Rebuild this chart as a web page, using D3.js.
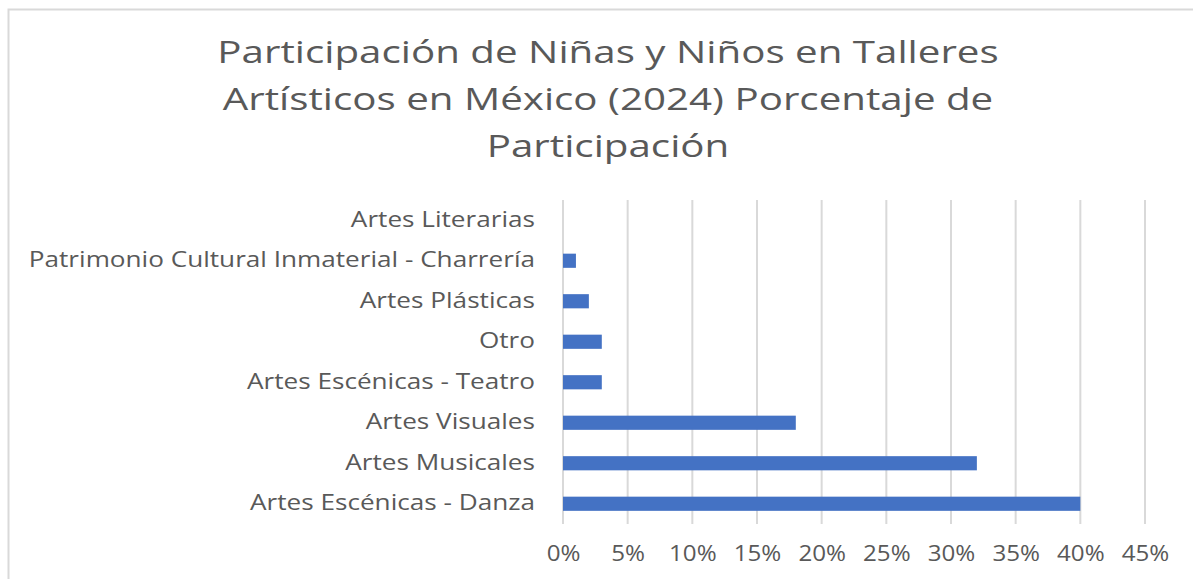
<!DOCTYPE html>
<html>
<head>
<meta charset="utf-8">
<script src="https://cdn.jsdelivr.net/npm/d3@7"></script>
<style>
  body { margin: 0; background: #fff; }
  svg { display: block; }
  text { font-family: "Open Sans", "Noto Sans", sans-serif; fill: #595959; }
</style>
</head>
<body>
<svg id="chart" width="1193" height="579"></svg>
<script>
// categories, top to bottom
const categories = [
  "Artes Literarias",
  "Patrimonio Cultural Inmaterial - Charrería",
  "Artes Plásticas",
  "Otro",
  "Artes Escénicas - Teatro",
  "Artes Visuales",
  "Artes Musicales",
  "Artes Escénicas - Danza"
];
// percentage of participation
const values = [0, 1, 2, 3, 3, 18, 32, 40];
const tickValues = [0, 5, 10, 15, 20, 25, 30, 35, 40, 45];
const titleLines = [
  "Participación de Niñas y Niños en Talleres",
  "Artísticos en México (2024) Porcentaje de",
  "Participación"
];

// the source picture is stretched sideways, so the text is too
const titleStretch = 1.3, labelStretch = 1.245, tickStretch = 1.15;

const svg = d3.select("#chart");

// chart frame (cut by the window on right and bottom)
svg.append("rect")
   .attr("x", 8.5).attr("y", 9.5)
   .attr("width", 1300).attr("height", 700)
   .attr("fill", "#fff")
   .attr("stroke", "#d9d9d9")
   .attr("stroke-width", 2);

// title
svg.append("g")
   .selectAll("text")
   .data(titleLines)
   .enter().append("text")
     .attr("transform", (d, i) => `translate(608,${63 + i * 47}) scale(${titleStretch},1)`)
     .attr("text-anchor", "middle")
     .style("font-size", "31px")
     .text(d => d);

const margin = { top: 200, left: 563 },
      width = 1145 - 563,
      height = 324;

const g = svg.append("g")
   .attr("transform", `translate(${margin.left},${margin.top})`);

const x = d3.scaleLinear().domain([0, 45]).range([0, width]);
const y = d3.scaleBand().domain(categories).range([0, height]).paddingInner(0.65).paddingOuter(0.325);

// gridlines
g.append("g")
 .selectAll("line")
 .data(tickValues)
 .enter().append("line")
   .attr("x1", d => x(d)).attr("x2", d => x(d))
   .attr("y1", 0).attr("y2", height)
   .attr("stroke", "#d9d9d9")
   .attr("stroke-width", 2);

// x axis labels
const xAxis = g.append("g")
 .attr("transform", `translate(0,${height})`)
 .call(d3.axisBottom(x).tickValues(tickValues).tickFormat(d => d + "%").tickSize(0).tickPadding(22));
xAxis.select(".domain").remove();
xAxis.selectAll("text")
     .attr("fill", "#595959")
     .attr("transform", `scale(${tickStretch},1)`)
     .style("font-family", "'Open Sans', 'Noto Sans', sans-serif")
     .style("font-size", "21px");

// y axis labels
const yAxis = g.append("g")
 .call(d3.axisLeft(y).tickSize(0));
yAxis.select(".domain").remove();
yAxis.selectAll("text")
     .attr("fill", "#595959")
     .attr("x", -28 / labelStretch)
     .attr("transform", `scale(${labelStretch},1)`)
     .style("font-family", "'Open Sans', 'Noto Sans', sans-serif")
     .style("font-size", "21px");

// bars
g.append("g")
 .selectAll("rect")
 .data(values)
 .enter().append("rect")
   .attr("x", x(0))
   .attr("y", (d, i) => y(categories[i]))
   .attr("width", d => x(d) - x(0))
   .attr("height", y.bandwidth())
   .attr("fill", "#4472c4");
</script>
</body>
</html>
